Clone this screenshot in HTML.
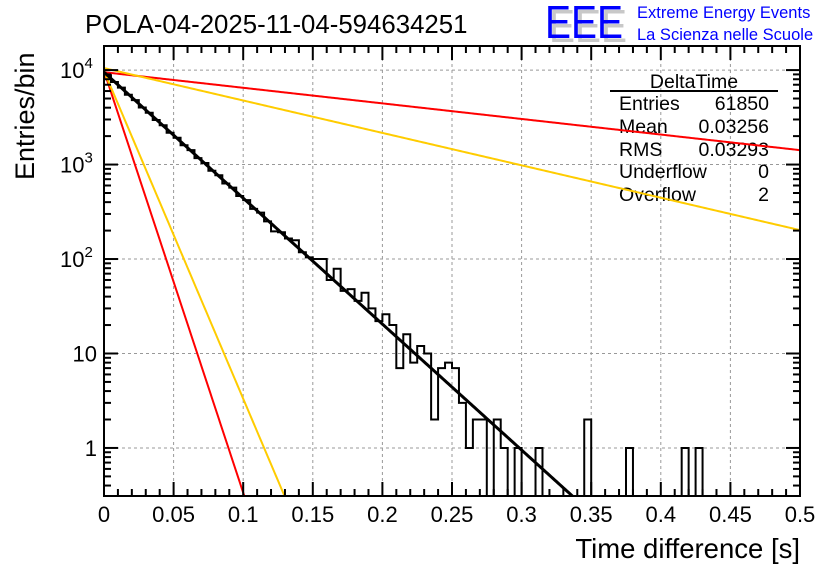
<!DOCTYPE html>
<html><head><meta charset="utf-8"><style>
html,body{margin:0;background:#fff;overflow:hidden;width:836px;height:572px;}
svg{display:block;font-family:"Liberation Sans",sans-serif;}
</style></head><body>
<svg id="chart" width="836" height="572" viewBox="0 0 836 572" xmlns="http://www.w3.org/2000/svg">
<defs><clipPath id="pc"><rect x="104" y="46" width="696" height="450"/></clipPath></defs>
<rect x="0" y="0" width="836" height="572" fill="#fff"/>
<text x="85" y="33" font-size="25.8">POLA-04-2025-11-04-594634251</text>
<g>
<text x="549" y="42" font-size="46" fill="#c8c8c8" textLength="78" lengthAdjust="spacingAndGlyphs">EEE</text>
<text x="545" y="38" font-size="46" fill="#0000ff" textLength="78" lengthAdjust="spacingAndGlyphs">EEE</text>
<text x="637" y="18" font-size="16.5" fill="#0000ff">Extreme Energy Events</text>
<text x="637" y="40" font-size="16.5" fill="#0000ff">La Scienza nelle Scuole</text>
</g>
<g id="grid"></g>
<g id="stats">
<text x="694" y="88" font-size="19.5" text-anchor="middle">DeltaTime</text>
<line x1="610" y1="91" x2="778" y2="91" stroke="#000" stroke-width="2"/>
<text x="619" y="110" font-size="19.5">Entries</text><text x="769" y="110" font-size="19.5" text-anchor="end">61850</text>
<text x="619" y="133" font-size="19.5">Mean</text><text x="769" y="133" font-size="19.5" text-anchor="end">0.03256</text>
<text x="619" y="156" font-size="19.5">RMS</text><text x="769" y="156" font-size="19.5" text-anchor="end">0.03293</text>
<text x="619" y="178" font-size="19.5">Underflow</text><text x="769" y="178" font-size="19.5" text-anchor="end">0</text>
<text x="619" y="201" font-size="19.5">Overflow</text><text x="769" y="201" font-size="19.5" text-anchor="end">2</text>
</g>
<g id="marks"></g>
<g id="axes"></g>
<text x="800" y="558" font-size="27.5" text-anchor="end">Time difference [s]</text>
<text transform="translate(34,180) rotate(-90)" font-size="27">Entries/bin</text>
</svg>
<script>
const binWidth = 0.005;
const counts = [8850,7480,6520,5490,4810,4020,3530,2960,2610,2170,1920,1600,1420,1170,1040,860,770,630,570,465,420,340,310,250,196,192,165,158,118,104,100,100,60,79,46,48,36,44,30,22,26,20,7,16,8,12,10,2,7,8,7,3,1,2,2,0,2,1,0,1,0,0,1,0,0,0,0,0,0,2,0,0,0,0,0,1,0,0,0,0,0,0,0,1,0,1,0,0,0,0,0,0,0,0,0,0,0,0,0,0];
const xTicks = [0,0.05,0.1,0.15,0.2,0.25,0.3,0.35,0.4,0.45,0.5];
const xTickLabels = ["0","0.05","0.1","0.15","0.2","0.25","0.3","0.35","0.4","0.45","0.5"];
const yDecades = [1,10,100,1000,10000];
const yTickLabels = ["1","10","10","10","10"];
const yTickExps = ["","","2","3","4"];
// exponential curves: amplitude, rate
const fitBlack = [9500, 30.7];
const fitRedSteep = [9800, 102.8];
const fitOrangeSteep = [9800, 79.9];
const fitOrangeShallow = [10500, 7.9];
const fitRedShallow = [9500, 3.8];

const X0=104,X1=800,Y0=496,Y1=46;
const yMin=0.31, yMax=Math.pow(10,4.255);
function xs(v){return X0+(v-0)/(0.5)*(X1-X0);}
function ys(v){const l=Math.log10(Math.max(v,1e-9));return Y0-(l-Math.log10(yMin))/(Math.log10(yMax)-Math.log10(yMin))*(Y0-Y1);}
function clampY(y){return Math.min(Y0,Math.max(Y1,y));}
const NS="http://www.w3.org/2000/svg";
function mk(t,a,p){const e=document.createElementNS(NS,t);for(const k in a)e.setAttribute(k,a[k]);p.appendChild(e);return e;}
const grid=document.getElementById('grid'),marks=document.getElementById('marks'),axes=document.getElementById('axes');
xTicks.forEach(v=>{if(v>0&&v<0.5){const l=mk('line',{x1:xs(v),x2:xs(v),y1:Y1,y2:Y0,stroke:'#999','stroke-dasharray':'3,3','stroke-width':1},grid);

}});
yDecades.forEach(v=>{const l=mk('line',{x1:X0,x2:X1,y1:ys(v),y2:ys(v),stroke:'#999','stroke-dasharray':'3,3','stroke-width':1},grid);

});
let d='M'+xs(0)+','+Y0;
counts.forEach((c,i)=>{const y=c>0?clampY(ys(c)):Y0;d+=' L'+xs(i*binWidth)+','+y+' L'+xs((i+1)*binWidth)+','+y;});
d+=' L'+xs(counts.length*binWidth)+','+Y0;
const h=mk('path',{d:d,fill:'none',stroke:'#000','stroke-width':2,'clip-path':'url(#pc)'},marks);


function curve(p,color,w,name){let s='';for(let i=0;i<=400;i++){const t=i/400*0.5;const v=p[0]*Math.exp(-p[1]*t);s+=(i?' L':'M')+xs(t)+','+ys(v);}
const e=mk('path',{d:s,fill:'none',stroke:color,'stroke-width':w,'clip-path':'url(#pc)'},marks);

}
curve(fitRedShallow,'#ff0000',2,'red-shallow-curve');
curve(fitOrangeShallow,'#ffcc00',2,'orange-shallow-curve');
curve(fitRedSteep,'#ff0000',2,'red-steep-curve');
curve(fitOrangeSteep,'#ffcc00',2,'orange-steep-curve');
curve(fitBlack,'#000',3,'black-fit-curve');
const f=mk('rect',{x:X0,y:Y1,width:X1-X0,height:Y0-Y1,fill:'none',stroke:'#000','stroke-width':2},axes);


for(let i=0;i<=50;i++){const v=i*0.01;const L=(i%5==0)?14:7;
mk('line',{x1:xs(v),x2:xs(v),y1:Y0,y2:Y0-L,stroke:'#000','stroke-width':2},axes);
mk('line',{x1:xs(v),x2:xs(v),y1:Y1,y2:Y1+L,stroke:'#000','stroke-width':2},axes);}
xTicks.forEach((v,i)=>{const t=mk('text',{x:xs(v),y:522,'font-size':22,'text-anchor':'middle'},axes);t.textContent=xTickLabels[i];

});
for(let e=-1;e<=4;e++){for(let m=1;m<=9;m++){const v=m*Math.pow(10,e);if(v<yMin||v>yMax)continue;const L=m==1?14:7;const y=ys(v);
mk('line',{x1:X0,x2:X0+L,y1:y,y2:y,stroke:'#000','stroke-width':2},axes);
mk('line',{x1:X1,x2:X1-L,y1:y,y2:y,stroke:'#000','stroke-width':2},axes);}}
yDecades.forEach((v,i)=>{const y=ys(v)+8;let t;
if(yTickExps[i]){t=mk('text',{x:60,y:y,'font-size':22},axes);t.textContent=yTickLabels[i];const s=mk('tspan',{dy:-10,'font-size':15},t);s.textContent=yTickExps[i];}
else{t=mk('text',{x:97,y:y,'font-size':22,'text-anchor':'end'},axes);t.textContent=yTickLabels[i];}

});
</script>
</body></html>
